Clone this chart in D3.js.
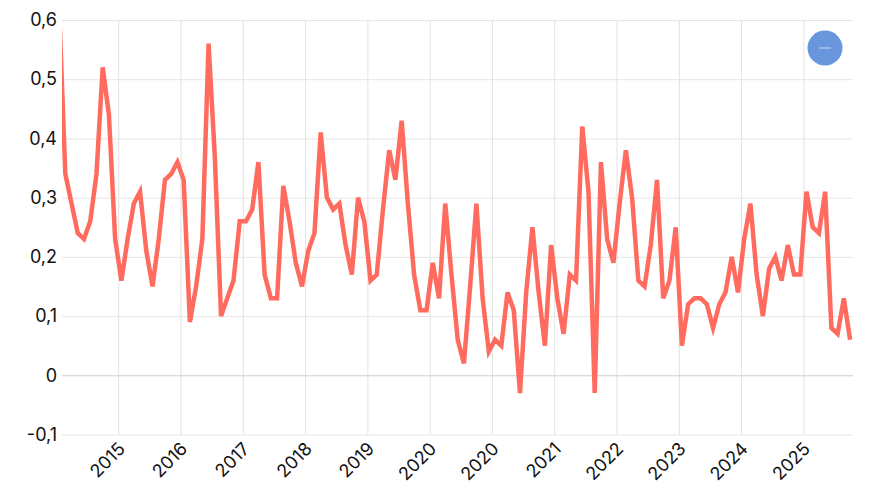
<!DOCTYPE html>
<html>
<head>
<meta charset="utf-8">
<script src="https://cdn.jsdelivr.net/npm/d3@7"></script>
<style>
  body { margin: 0; background: #fff; }
  svg { display: block; }
</style>
</head>
<body>
<svg id="chart" width="873" height="500"></svg>
<script>
// monthly values (first point sits just left of the visible window)
const values = [
  0.62, 0.34, 0.29, 0.24, 0.23, 0.26, 0.34, 0.52, 0.44, 0.23,
  0.16, 0.23, 0.29, 0.31, 0.21, 0.15, 0.23, 0.33, 0.34, 0.36,
  0.33, 0.09, 0.15, 0.23, 0.56, 0.37, 0.10, 0.13, 0.16, 0.26,
  0.26, 0.28, 0.36, 0.17, 0.13, 0.13, 0.32, 0.26, 0.19, 0.15,
  0.21, 0.24, 0.41, 0.30, 0.28, 0.29, 0.22, 0.17, 0.30, 0.26,
  0.16, 0.17, 0.28, 0.38, 0.33, 0.43, 0.29, 0.17, 0.11, 0.11,
  0.19, 0.13, 0.29, 0.17, 0.06, 0.02, 0.15, 0.29, 0.13, 0.04,
  0.06, 0.05, 0.14, 0.11, -0.03, 0.14, 0.25, 0.14, 0.05, 0.22,
  0.13, 0.07, 0.17, 0.16, 0.42, 0.31, -0.03, 0.36, 0.23, 0.19,
  0.29, 0.38, 0.30, 0.16, 0.15, 0.22, 0.33, 0.13, 0.16, 0.25,
  0.05, 0.12, 0.13, 0.13, 0.12, 0.08, 0.12, 0.14, 0.20, 0.14,
  0.23, 0.29, 0.17, 0.10, 0.18, 0.20, 0.16, 0.22, 0.17, 0.17,
  0.31, 0.25, 0.24, 0.31, 0.08, 0.07, 0.13, 0.06
];
// x axis: one tick every 10 points, between points
const tickAt = [9.5, 19.5, 29.5, 39.5, 49.5, 59.5, 69.5, 79.5, 89.5, 99.5, 109.5, 119.5];
const tickLabels = ["2015", "2016", "2017", "2018", "2019", "2020", "2020", "2021", "2022", "2023", "2024", "2025"];
const yTicks = [-0.1, 0, 0.1, 0.2, 0.3, 0.4, 0.5, 0.6];
const viewWindow = [0.466, 127.47];

const margin = { top: 20, right: 20, bottom: 65.5, left: 62 };
const width = 873, height = 500;
const font = "Inter, 'Noto Sans', sans-serif";
const svg = d3.select("#chart");

const x = d3.scaleLinear(viewWindow, [margin.left, width - margin.right]);
const y = d3.scaleLinear([-0.1, 0.6], [height - margin.bottom, margin.top]);

const locale = d3.formatLocale({ decimal: ",", thousands: ".", grouping: [3], currency: ["", ""], minus: "-" });
const fmt = locale.format(".1~f");

// vertical grid + rotated year labels
const xAxis = d3.axisBottom(x)
  .tickValues(tickAt)
  .tickFormat((d, i) => tickLabels[i])
  .tickSize(-(y(-0.1) - y(0.6)))
  .tickPadding(0);

svg.append("g")
  .attr("class", "xAxis")
  .attr("transform", `translate(0,${y(-0.1)})`)
  .call(xAxis)
  .attr("font-family", font)
  .attr("font-size", 18)
  .call(g => g.select(".domain").remove())
  .call(g => g.selectAll(".tick line").attr("stroke", "#e2e2e2"))
  .call(g => g.selectAll(".tick text")
    .attr("fill", "#111")
    .attr("text-anchor", "end")
    .attr("y", 0).attr("dy", "0.35em")
    .attr("transform", "translate(3,11) rotate(-45)"));

// horizontal grid + labels
const yAxis = d3.axisLeft(y)
  .tickValues(yTicks)
  .tickFormat(fmt)
  .tickSize(-(width - margin.right - margin.left))
  .tickPadding(5);

svg.append("g")
  .attr("class", "yAxis")
  .attr("transform", `translate(${margin.left},0)`)
  .call(yAxis)
  .attr("font-family", font)
  .attr("font-size", 18)
  .call(g => g.select(".domain").remove())
  .call(g => g.selectAll(".tick line")
    .attr("stroke", d => d === 0 ? "#cccccc" : "#e6e6e6"))
  .call(g => g.selectAll(".tick text").attr("fill", "#111"));

svg.append("clipPath")
  .attr("id", "plot")
  .append("rect")
  .attr("x", margin.left)
  .attr("y", 0)
  .attr("width", width - margin.right - margin.left)
  .attr("height", height - margin.bottom);

const line = d3.line()
  .x((d, i) => x(i))
  .y(d => y(d));

svg.append("path")
  .datum(values)
  .attr("clip-path", "url(#plot)")
  .attr("fill", "none")
  .attr("stroke", "#ff6c5f")
  .attr("stroke-width", 4.5)
  .attr("d", line);

// zoom-out button top right
const btn = svg.append("g").attr("transform", "translate(825,48)");
btn.append("circle").attr("r", 17.5).attr("fill", "#6a96de");
btn.append("line")
  .attr("x1", -6).attr("x2", 6)
  .attr("stroke", "#c9d6f0").attr("stroke-width", 1);
</script>
</body>
</html>
